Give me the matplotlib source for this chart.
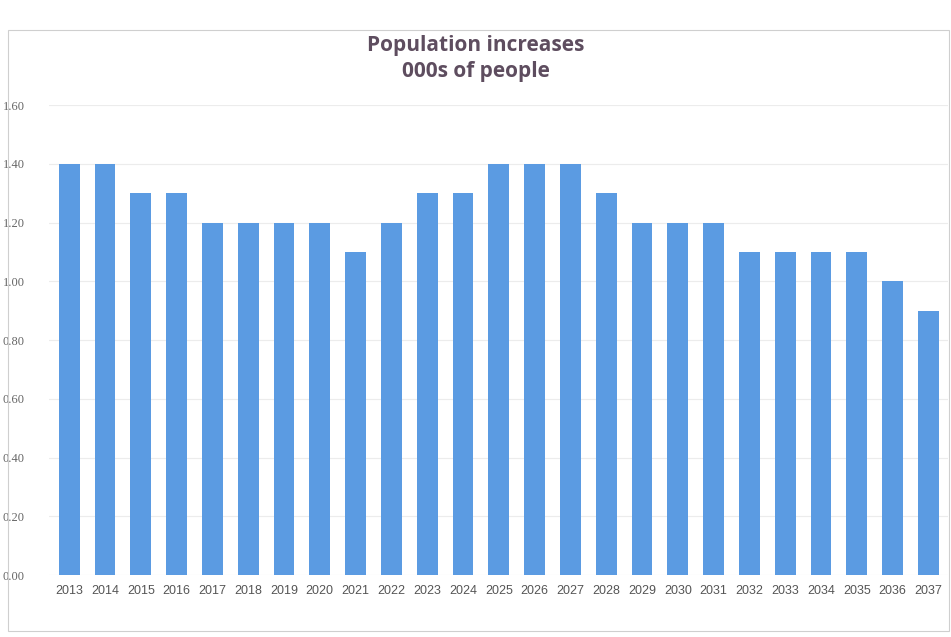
import matplotlib.pyplot as plt
from matplotlib.patches import Rectangle

years = [str(y) for y in range(2013, 2038)]
increase = [1.40, 1.40, 1.30, 1.30, 1.20, 1.20, 1.20, 1.20, 1.10, 1.20,
            1.30, 1.30, 1.40, 1.40, 1.40, 1.30, 1.20, 1.20, 1.20, 1.10,
            1.10, 1.10, 1.10, 1.00, 0.90]
yticks = [0.0, 0.2, 0.4, 0.6, 0.8, 1.0, 1.2, 1.4, 1.6]

plt.rcParams['font.family'] = ['Liberation Sans', 'DejaVu Sans']

fig = plt.figure(figsize=(9.51, 6.37), dpi=100)
ax = fig.add_axes([0.052, 0.097, 0.945, 0.738])

# chart border
fig.patches.append(Rectangle((0.008, 0.01), 0.99, 0.943, transform=fig.transFigure,
                             fill=False, edgecolor='#cfcfcf', linewidth=0.8))

x = range(len(years))
ax.bar(x, increase, width=0.58, color='#5b9be2', zorder=2)

ax.set_ylim(0, 1.6)
ax.set_xlim(-0.55, len(years) - 0.45)
ax.set_yticks(yticks)
ax.set_yticklabels([f"{v:.2f}" for v in yticks], fontsize=9, color='#666666',
                   family=['Liberation Serif', 'DejaVu Serif'])
ax.set_xticks(list(x))
ax.set_xticklabels(years, fontsize=9, color='#555555')
ax.tick_params(axis='both', length=0)
ax.tick_params(axis='y', pad=18)
ax.tick_params(axis='x', pad=7)
ax.grid(axis='y', color='#ececec', linewidth=0.8, zorder=0)
for s in ax.spines.values():
    s.set_visible(False)

fig.text(0.5, 0.908, "Population increases\n000s of people", ha='center', va='center',
         fontsize=15, color='#5e4d5f', fontweight='bold', linespacing=1.35,
         family=['Open Sans', 'DejaVu Sans'])

fig.savefig("out.png", dpi=100, facecolor='white')
